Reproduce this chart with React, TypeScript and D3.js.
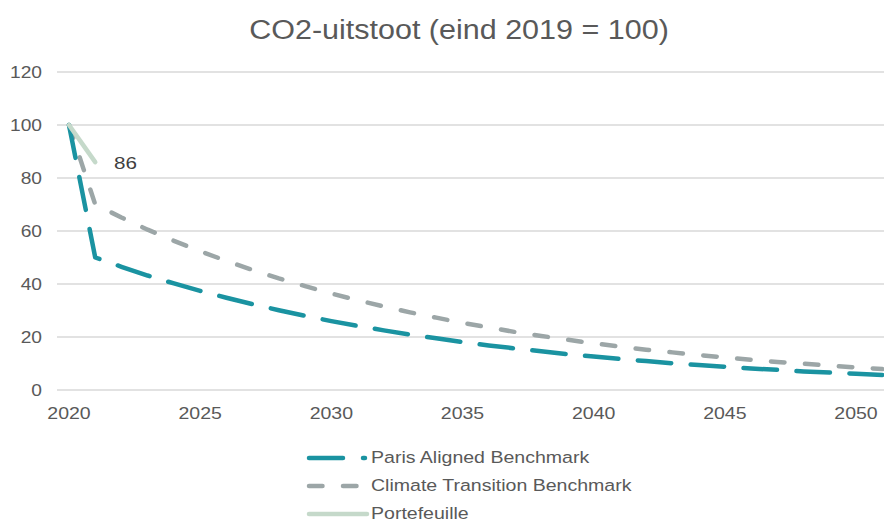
import React from "react";
import * as d3 from "d3";

const years = d3.range(2020, 2052);
const parisValues = [100, 50, 46.5, 43.2, 40.2, 37.4, 34.8, 32.4, 30.1, 28.0, 26.0, 24.2, 22.5, 20.9, 19.5, 18.1, 16.8, 15.7, 14.6, 13.5, 12.6, 11.7, 10.9, 10.1, 9.4, 8.8, 8.1, 7.6, 7.0, 6.6, 6.1, 5.7];
const ctbValues = [100, 70, 65.1, 60.5, 56.3, 52.4, 48.7, 45.3, 42.1, 39.2, 36.4, 33.9, 31.5, 29.3, 27.3, 25.3, 23.6, 21.9, 20.4, 19.0, 17.6, 16.4, 15.2, 14.2, 13.2, 12.3, 11.4, 10.6, 9.9, 9.2, 8.5, 7.9];
const portfolioYears = [2020, 2021];
const portfolioValues = [100, 86];
const yTicks = [0, 20, 40, 60, 80, 100, 120];
const xTicks = [2020, 2025, 2030, 2035, 2040, 2045, 2050];
const seriesNames = ["Paris Aligned Benchmark", "Climate Transition Benchmark", "Portefeuille"];

const TEAL = "#1a93a1";
const GREY = "#9ca6a7";
const GREEN = "#c5d9ca";
const TEXT = "#595959";
const FONT = "'Liberation Sans', Arial, sans-serif";

function T({ x, y, sx, size, anchor, fill, children }: any) {
  return (
    <text transform={`translate(${x},${y}) scale(${sx},1)`} x={0} y={0} fontSize={size}
      textAnchor={anchor || "start"} fill={fill || TEXT}>{children}</text>
  );
}

export default function App() {
  const W = 884, H = 521;
  const x = d3.scaleLinear().domain([2020, 2050]).range([69, 856]);
  const y = d3.scaleLinear().domain([0, 120]).range([390, 72]);
  const line = d3.line<[number, number]>().x(d => x(d[0])).y(d => y(d[1]));
  const paris = line(years.map((yr, i) => [yr, parisValues[i]]));
  const ctb = line(years.map((yr, i) => [yr, ctbValues[i]]));
  const port = line(portfolioYears.map((yr, i) => [yr, portfolioValues[i]]));
  const legendY = [458, 486, 514];
  const dashes = ["33.5 19.5", "13.5 20.5", undefined];
  const legendDashes = ["34 20", "13.5 20.5", undefined];
  return (
    <svg width={W} height={H} style={{ position: "absolute", left: 0, top: 0, background: "#fff" }} fontFamily={FONT}>
      <rect width={W} height={H} fill="#fff" />
      <T x={459} y={38.5} sx={1.09} size={28} anchor="middle">CO2-uitstoot (eind 2019 = 100)</T>
      {yTicks.map(t => (
        <g key={t}>
          <line x1={57} x2={884} y1={y(t)} y2={y(t)} stroke="#d9d9d9" strokeWidth={1.5} />
          <T x={42} y={y(t) + 6.3} sx={1.2} size={16} anchor="end">{t}</T>
        </g>
      ))}
      {xTicks.map(t => (
        <T key={t} x={x(t)} y={419} sx={1.22} size={16} anchor="middle">{t}</T>
      ))}
      <path d={ctb ?? ""} fill="none" stroke={GREY} strokeWidth={4.5} strokeDasharray={dashes[1]} strokeLinecap="round" strokeLinejoin="round" />
      <path d={paris ?? ""} fill="none" stroke={TEAL} strokeWidth={4.5} strokeDasharray={dashes[0]} strokeLinecap="round" strokeLinejoin="round" />
      <path d={port ?? ""} fill="none" stroke={GREEN} strokeWidth={4.5} strokeLinecap="round" />
      <T x={114} y={169} sx={1.25} size={16.5} fill="#404040">{portfolioValues[1]}</T>
      {seriesNames.map((name, i) => (
        <g key={name}>
          <line x1={309} x2={i === 2 ? 367 : 365} y1={legendY[i]} y2={legendY[i]}
            stroke={[TEAL, GREY, GREEN][i]} strokeWidth={4.5}
            strokeDasharray={legendDashes[i]}
            strokeLinecap="round" />
          <T x={371} y={legendY[i] + 4.5} sx={1.15} size={17}>{name}</T>
        </g>
      ))}
    </svg>
  );
}
